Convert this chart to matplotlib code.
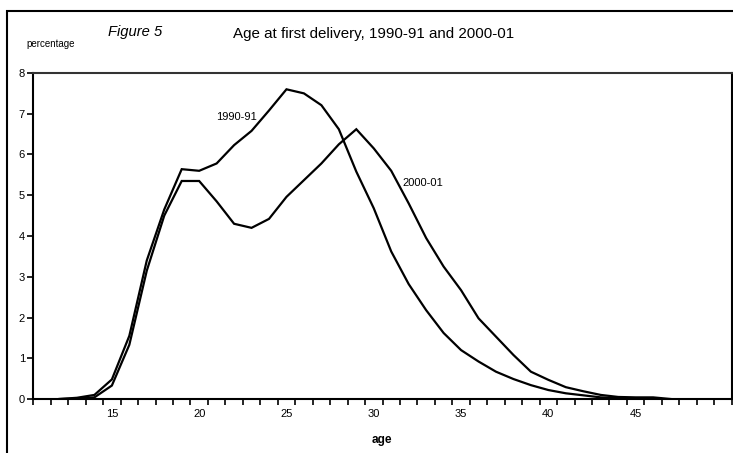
import matplotlib
matplotlib.use("Agg")
import matplotlib.pyplot as plt
from matplotlib.patches import Rectangle
import numpy as np

plt.rcParams['font.family'] = ['Liberation Sans', 'DejaVu Sans']

ages_1990 = list(range(12, 47))
pct_1990 = [0.0, 0.03, 0.1, 0.48, 1.55, 3.4, 4.65, 5.64, 5.6, 5.78, 6.23, 6.58, 7.08,
            7.6, 7.5, 7.21, 6.62, 5.58, 4.68, 3.62, 2.82, 2.18, 1.62, 1.2, 0.92, 0.67,
            0.49, 0.34, 0.22, 0.14, 0.09, 0.04, 0.02, 0.01, 0.0]
ages_2000 = list(range(12, 48))
pct_2000 = [0.0, 0.01, 0.04, 0.33, 1.33, 3.15, 4.5, 5.35, 5.35, 4.85, 4.3, 4.2, 4.42,
            4.96, 5.37, 5.78, 6.25, 6.62, 6.15, 5.6, 4.8, 3.95, 3.25, 2.67, 1.98, 1.53,
            1.08, 0.67, 0.47, 0.29, 0.19, 0.1, 0.05, 0.04, 0.04, 0.0]
x_labels = [15, 20, 25, 30, 35, 40, 45]
y_ticks = [0, 1, 2, 3, 4, 5, 6, 7, 8]
first_age, last_age = 11, 50

W, H = 733, 453
fig = plt.figure(figsize=(W / 100, H / 100), dpi=100)

# outer frame
fig.patches.append(Rectangle((7 / W, -0.2), 1.2, 1 - 11 / H + 0.2, transform=fig.transFigure,
                             fill=False, edgecolor='black', linewidth=1.5))

ax = fig.add_axes([33.3 / W, 1 - 399 / H, (731.7 - 33.3) / W, (399 - 73) / H])
ax.plot(ages_1990, pct_1990, color='black', linewidth=1.6, solid_joinstyle='miter')
ax.plot(ages_2000, pct_2000, color='black', linewidth=1.6, solid_joinstyle='miter')

ax.set_xlim(first_age - 0.5, last_age + 0.5)
ax.set_ylim(0, 8)
ax.set_yticks(y_ticks)
ax.set_xticks(np.arange(first_age - 0.5, last_age + 1.0, 1.0))
ax.set_xticklabels([])
ax.set_xticks(x_labels, minor=True)
ax.set_xticklabels([str(v) for v in x_labels], minor=True)
ax.tick_params(axis='x', which='major', direction='out', length=4, width=1.2, color='black')
ax.tick_params(axis='x', which='minor', length=0, labelsize=8, pad=7)
ax.tick_params(axis='y', direction='out', length=4, width=1.2, labelsize=8, pad=2)
for s in ax.spines.values():
    s.set_color('black')
    s.set_linewidth(1.5)
ax.spines['top'].set_color('#333333')

ax.annotate('1990-91', xy=(216 / W, 1 - 117 / H), xycoords='figure fraction',
            fontsize=8, ha='left', va='center')
ax.annotate('2000-01', xy=(402 / W, 1 - 183 / H), xycoords='figure fraction',
            fontsize=8, ha='left', va='center')

fig.text(382 / W, 1 - 440 / H, 'age', fontsize=8.5, fontweight='bold', ha='center', va='center')
fig.text(26 / W, 1 - 44 / H, 'percentage', fontsize=7, ha='left', va='center')
fig.text(108 / W, 1 - 32 / H, 'Figure 5', fontsize=10.6, style='italic', ha='left', va='center')
fig.text(233 / W, 1 - 34 / H, 'Age at first delivery, 1990-91 and 2000-01', fontsize=10.9,
         ha='left', va='center')

fig.savefig('out.png', dpi=100)
